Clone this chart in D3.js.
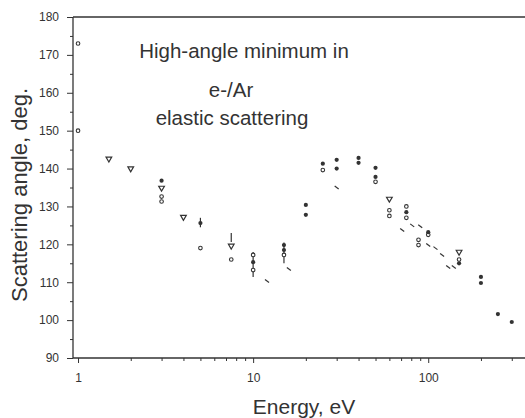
<!DOCTYPE html>
<html><head><meta charset="utf-8">
<script src="https://cdn.jsdelivr.net/npm/d3@7"></script>
<style>
body{margin:0;background:#fff;}
svg{display:block;}
.tick text{font-family:"Liberation Sans Narrow","Arial Narrow","Liberation Sans",sans-serif;font-size:12px;fill:#333;}
</style></head>
<body>
<svg id="c" width="525" height="418"></svg>
<script>
// ---- data (Energy eV, angle deg) ----
const triangles = [[1.5,142.6],[2,140],[3,134.9],[4,127.2],[7.5,119.6],[60,132],[150,118]];
const filledCircles = [[3,136.8],[5,125.6],[10,115.3],[15,119.8],[15,118.5],[20,130.4],[20,127.8],[25,141.3],
  [30,142.3],[30,140],[40,141.5],[40,142.8],[50,140.2],[50,137.8],[75,128.5],[100,123.2],[150,115],
  [200,111.4],[200,109.8],[250,101.6],[300,99.5]];
const openCircles = [[1,173],[1,150],[3,132.6],[3,131.3],[5,119],[7.5,116],[10,117.2],[10,113.2],[15,117.2],
  [25,139.6],[50,136.5],[60,129],[60,127.5],[75,130],[75,127],[88,121.2],[88,119.8],[100,122.5],[150,116]];
const dashes = [[12,110.3],[16,113.5],[30,135],[71,123.8],[81,125],[90,124.8],[100,119.8],[110,119],[120,117.2],[130,114],[140,114]];
const errorBars = [[5,124.5,127],[7.5,120.6,123],[10,111.4,118],[15,115,120.5]];
const yTicks = [90,100,110,120,130,140,150,160,170,180];
const xTicks = [1,10,100];
const annotation = ["High-angle minimum in","e-/Ar","elastic scattering"];

const svg = d3.select("#c");
const L=73, T=17, R=525, B=358;
const x = d3.scaleLog().domain([0.936,357]).range([L,R]);
const y = d3.scaleLinear().domain([90,180]).range([B,T]);
const ink="#333";

// minor ticks
const yMinor = d3.range(95,180,10);
const xMinor = [];
[1,10,100].forEach(d=>{for(let k=2;k<=9;k++){const v=d*k; if(v<357) xMinor.push(v);}});

const yAxis = svg.append("g").attr("transform",`translate(${L},0)`)
  .call(d3.axisLeft(y).tickValues(yTicks).tickSize(6).tickPadding(8).tickFormat(d3.format("d")));
yAxis.select(".domain").attr("stroke",ink).attr("stroke-width",1.3).attr("d",`M0,${B}V${T}`);
yAxis.selectAll(".tick line").attr("stroke",ink);
svg.append("g").attr("transform",`translate(${L},0)`)
  .call(d3.axisLeft(y).tickValues(yMinor).tickSize(3).tickFormat(""))
  .call(g=>{g.select(".domain").remove(); g.selectAll("line").attr("stroke",ink);});

const xAxis = svg.append("g").attr("transform",`translate(0,${B})`)
  .call(d3.axisBottom(x).tickValues(xTicks).tickSize(5).tickPadding(10).tickFormat(d3.format("d")));
xAxis.select(".domain").attr("stroke",ink).attr("stroke-width",1.3).attr("d",`M${L},0H${R}`);
xAxis.selectAll(".tick line").attr("stroke",ink);
svg.append("g").attr("transform",`translate(0,${B})`)
  .call(d3.axisBottom(x).tickValues(xMinor).tickSize(3).tickFormat(""))
  .call(g=>{g.select(".domain").remove(); g.selectAll("line").attr("stroke",ink);});

// top frame
svg.append("line").attr("x1",L).attr("x2",R).attr("y1",T).attr("y2",T).attr("stroke",ink).attr("stroke-width",1.5);

// axis titles
svg.append("text").attr("x",304).attr("y",414).attr("text-anchor","middle")
  .attr("font-family","Liberation Sans, Arial, sans-serif").attr("font-size",21).attr("fill",ink).text("Energy, eV");
svg.append("text").attr("transform","translate(27,195) rotate(-90)").attr("text-anchor","middle")
  .attr("font-family","Liberation Sans, Arial, sans-serif").attr("font-size",22).attr("fill",ink).text("Scattering angle, deg.");

// annotation
const annX=[244,231,232], annY=[58,97,125];
svg.selectAll("text.ann").data(annotation).join("text").attr("class","ann")
  .attr("x",(d,i)=>annX[i]).attr("y",(d,i)=>annY[i]).attr("text-anchor","middle")
  .attr("font-family","Liberation Sans, Arial, sans-serif").attr("font-size",20.5).attr("fill",ink).text(d=>d);

// marks
const g = svg.append("g");
g.selectAll("line.err").data(errorBars).join("line").attr("class","err")
  .attr("x1",d=>x(d[0])).attr("x2",d=>x(d[0])).attr("y1",d=>y(d[1])).attr("y2",d=>y(d[2]))
  .attr("stroke",ink).attr("stroke-width",1.2);
g.selectAll("path.tri").data(triangles).join("path").attr("class","tri")
  .attr("d",d3.symbol(d3.symbolTriangle,14)())
  .attr("transform",d=>`translate(${x(d[0])},${y(d[1])}) rotate(180)`)
  .attr("fill","#fff").attr("stroke",ink).attr("stroke-width",1.2);
g.selectAll("circle.oc").data(openCircles).join("circle").attr("class","oc")
  .attr("cx",d=>x(d[0])).attr("cy",d=>y(d[1])).attr("r",1.8)
  .attr("fill","#fff").attr("stroke",ink).attr("stroke-width",1.1);
g.selectAll("circle.fc").data(filledCircles).join("circle").attr("class","fc")
  .attr("cx",d=>x(d[0])).attr("cy",d=>y(d[1])).attr("r",2.1).attr("fill",ink);
g.selectAll("line.dash").data(dashes).join("line").attr("class","dash")
  .attr("x1",d=>x(d[0])-2).attr("x2",d=>x(d[0])+2).attr("y1",d=>y(d[1])-1.5).attr("y2",d=>y(d[1])+1.5)
  .attr("stroke",ink).attr("stroke-width",1.2);
</script>
</body></html>
